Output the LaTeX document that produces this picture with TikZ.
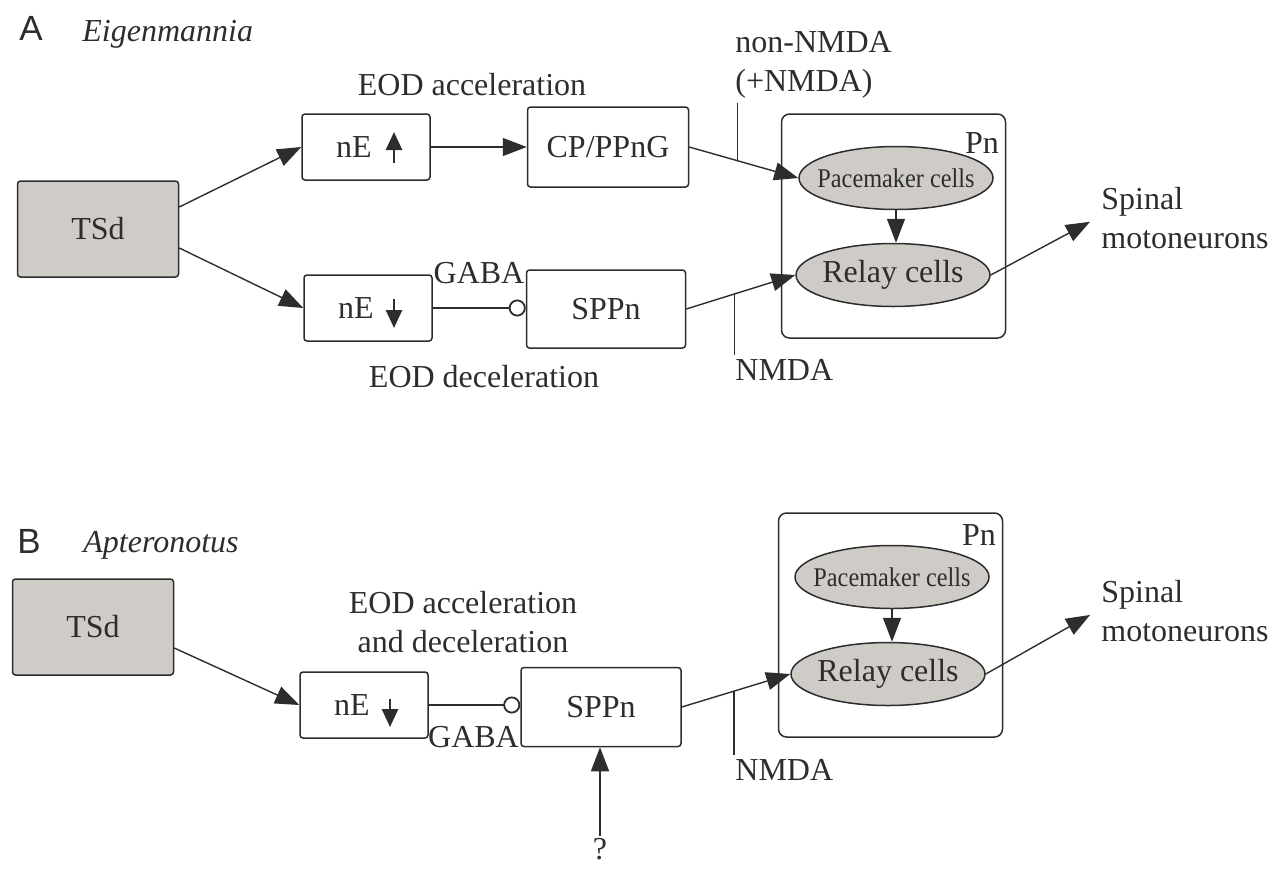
\documentclass[tikz,border=0pt]{standalone}
\usepackage{fontspec}
\setmainfont{Liberation Serif}
\setsansfont{Liberation Sans}
\usetikzlibrary{arrows.meta, calc, shapes.geometric}

\definecolor{cellgray}{RGB}{207,204,200}
\definecolor{inkgray}{RGB}{45,45,45}

% text inside a cell ellipse, kept from widening it
\newcommand{\celltext}[2][1]{\makebox[0pt]{\scalebox{#1}[1]{#2}}}

\begin{document}
\begin{tikzpicture}[x=0.5pt, y=-0.5pt,
    every node/.style={font=\fontsize{16}{19.5}\selectfont, text=inkgray},
    box/.style={draw=inkgray, line width=0.75pt, rounded corners=1.5pt, minimum width=64pt, minimum height=33pt, inner sep=0pt},
    tsdbox/.style={box, fill=cellgray, minimum width=80.5pt, minimum height=48pt},
    cell/.style={ellipse, draw=inkgray, line width=0.75pt, fill=cellgray, minimum width=97pt, minimum height=31.5pt, inner sep=0pt},
    pacecell/.style={cell, font=\fontsize{13.5}{15}\selectfont},
    pnbox/.style={draw=inkgray, line width=0.75pt, rounded corners=4pt, minimum width=112pt, minimum height=112pt},
    conn/.style={draw=inkgray, line width=0.7pt, -{Triangle[length=12pt, width=9pt]}},
    inhib/.style={draw=inkgray, line width=0.9pt, -{Circle[open, length=8.5pt, width=8.5pt]}},
    tick/.style={draw=inkgray, line width=0.7pt},
    sym/.style={draw=inkgray, line width=1.3pt, -{Triangle[length=9pt, width=8pt]}},
    lbl/.style={inner sep=2pt},
    panel/.style={font=\sffamily\fontsize{17.5}{20}\selectfont, inner sep=0pt},
    species/.style={font=\itshape\fontsize{16}{19}\selectfont, inner sep=0pt}
]
    \useasboundingbox (0,0) rectangle (1288,868);

    % Panel A: Eigenmannia
    \node[panel, anchor=base west] (panA) at (19,40) {A};
    \node[species, anchor=base west] (specA) at (82,41) {Eigenmannia};

    % Boxes of A
    \node[tsdbox] (tsdA) at (98,229) {TSd};
    \node[box] (upA) at (366,147) {nE\hspace*{12pt}};
    \node[box, minimum width=80.5pt, minimum height=40pt] (cpA) at (608,147) {CP/PPnG};
    \node[box] (dnA) at (368,308) {nE\hspace*{12pt}};
    \node[box, minimum width=79.5pt, minimum height=39pt] (sppA) at (606,309) {SPPn};

    % Pn of A
    \node[pnbox] (pnA) at (893.5,226) {};
    \node[anchor=north east, inner sep=0pt] (pnlabA) at ($(pnA.north east)+(-7,19)$) {Pn};
    \node[pacecell] (paceA) at (896,178) {\celltext[0.9]{Pacemaker cells}};
    \node[cell] (relayA) at (893,275) {\celltext{Relay cells}};

    % Labels of A
    \node[lbl] (accA) at (472,85) {EOD acceleration};
    \node[lbl] (decA) at (484,377) {EOD deceleration};
    \node[anchor=east, inner sep=0pt] (gabaA) at ($(sppA.north west)+(-1,4)$) {GABA};
    \node[lbl, anchor=west, align=left] (nonA) at (731,65) {non-NMDA\\(+NMDA)};
    \node[lbl, anchor=west] (nmdaA) at (731,370) {NMDA};
    \node[lbl, anchor=west, align=left] (spinA) at (1097,218) {Spinal\\motoneurons};

    % Connections of A
    \draw[conn] ($(tsdA.east)+(0,-22)$) -- (upA.west);
    \draw[conn] ($(tsdA.east)+(0,19)$) -- (dnA.west);
    \draw[conn] (upA.east) -- (cpA.west);
    \draw[inhib] (dnA.east) -- (dnA.east -| sppA.west);
    \draw[conn] (cpA.east) -- coordinate[pos=0.44] (tickA1) (paceA.west);
    \draw[conn] (sppA.east) -- coordinate[pos=0.44] (tickA2) (relayA.west);
    \draw[conn] (paceA.south) -- (paceA.south |- relayA.north);
    \draw[conn, shorten >=4pt] (relayA.east) -- (spinA.west);
    \draw[tick] (tickA1) -- (tickA1 |- nonA.south);
    \draw[tick] (tickA2) -- (tickA2 |- nmdaA.north);

    % up and down signs in nE
    \draw[sym] ($(upA.center)+(28,16)$) -- ($(upA.center)+(28,-15)$);
    \draw[sym] ($(dnA.center)+(26,-9)$) -- ($(dnA.center)+(26,20)$);

    % Panel B: Apteronotus
    \node[panel, anchor=base west] (panB) at (17,553) {B};
    \node[species, anchor=base west] (specB) at (83,552) {Apteronotus};

    % Boxes of B
    \node[tsdbox] (tsdB) at (93,627) {TSd};
    \node[box] (dnB) at (364,705) {nE\hspace*{12pt}};
    \node[box, minimum width=80pt, minimum height=39.5pt] (sppB) at (601,707) {SPPn};

    % Pn of B
    \node[pnbox] (pnB) at (890.5,625) {};
    \node[anchor=north east, inner sep=0pt] (pnlabB) at ($(pnB.north east)+(-7,12)$) {Pn};
    \node[pacecell] (paceB) at (892,577) {\celltext[0.9]{Pacemaker cells}};
    \node[cell] (relayB) at (888,674) {\celltext{Relay cells}};

    % Labels of B
    \node[lbl, align=center] (accB) at (463,622) {EOD acceleration\\and deceleration};
    \node[anchor=east, inner sep=0pt] (gabaB) at ($(sppB.south west)+(-1,-10)$) {GABA};
    \node[lbl, anchor=west] (nmdaB) at (731,770) {NMDA};
    \node[lbl, anchor=west, align=left] (spinB) at (1097,611) {Spinal\\motoneurons};
    \node[inner sep=1pt] (qB) at (600,849) {?};

    % Connections of B
    \draw[conn] ($(tsdB.east)+(0,21)$) -- (dnB.west);
    \draw[inhib] (dnB.east) -- (dnB.east -| sppB.west);
    \draw[conn] (sppB.east) -- coordinate[pos=0.48] (tickB) (relayB.west);
    \draw[conn] (paceB.south) -- (paceB.south |- relayB.north);
    \draw[conn, shorten >=4pt] (relayB.east) -- (spinB.west);
    \draw[tick] (tickB) -- (tickB |- nmdaB.north);
    \draw[conn] (qB.north) -- (qB.north |- sppB.south);

    % down sign in nE
    \draw[sym] ($(dnB.center)+(26,-6)$) -- ($(dnB.center)+(26,22)$);
\end{tikzpicture}
\end{document}
